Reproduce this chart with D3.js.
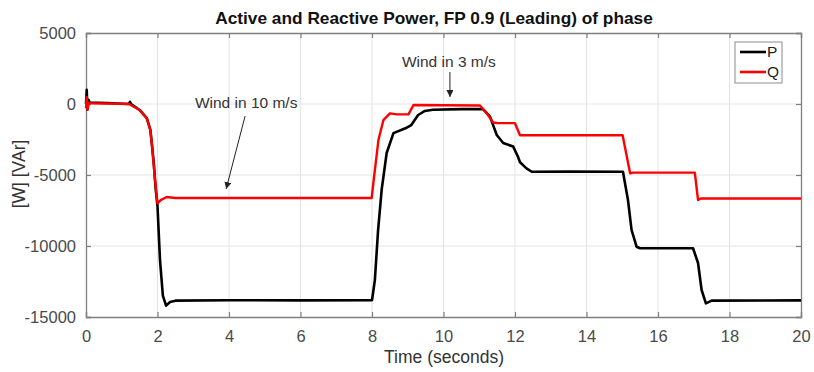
<!DOCTYPE html>
<html><head><meta charset="utf-8">
<script src="https://cdn.jsdelivr.net/npm/d3@7"></script>
<style>body{margin:0;background:#fff;}svg{display:block;font-family:"Liberation Sans",Arial,sans-serif;}</style>
</head><body><svg id="c" width="814" height="372"></svg>
<script>
const xTicks = [0,2,4,6,8,10,12,14,16,18,20];
const yTicks = [5000,0,-5000,-10000,-15000];
const pTime = [0,0.02,0.04,0.07,0.1,0.3,0.6,1.0,1.2,1.23,1.26,1.5,1.7,1.8,1.85,1.9,1.95,2.0,2.07,2.15,2.24,2.35,2.5,4.0,6.0,8.0,8.08,8.17,8.27,8.41,8.6,8.97,9.1,9.29,9.48,9.7,10.5,11.1,11.3,11.49,11.67,11.95,12.08,12.14,12.33,12.47,13.5,15.02,15.16,15.26,15.4,15.5,16.98,17.12,17.22,17.34,17.5,20];
const pValues = [0,1000,-400,300,100,90,70,20,0,150,0,-420,-1000,-1830,-3000,-4300,-6000,-7200,-11000,-13500,-14200,-13950,-13850,-13820,-13830,-13820,-12400,-8900,-6050,-3450,-2050,-1670,-1480,-775,-490,-400,-360,-350,-890,-2180,-2750,-3000,-3700,-4100,-4550,-4770,-4760,-4770,-6760,-8870,-10050,-10160,-10160,-11200,-13100,-14040,-13850,-13830];
const qTime = [0,0.02,0.04,0.08,0.12,0.5,1.0,1.2,1.5,1.7,1.8,1.85,1.93,2.0,2.1,2.26,2.5,5.0,7.99,8.08,8.18,8.32,8.5,8.7,9.02,9.16,10.0,11.02,11.21,11.39,11.5,12.0,12.14,13.5,15.01,15.22,15.3,17.03,17.12,17.2,20];
const qValues = [-300,500,-400,100,50,40,20,0,-420,-1000,-1830,-3000,-5350,-7000,-6750,-6550,-6620,-6620,-6620,-4650,-2540,-1130,-660,-730,-730,-70,-90,-110,-660,-1300,-1340,-1350,-2200,-2200,-2200,-4880,-4830,-4830,-6760,-6650,-6650];
const legendNames = ["P","Q"];
const seriesColors = ["#000000","#ff0000"];
const notes = [
  {text:"Wind in 10 m/s", tx:4.48, tv:70, x1:4.45, v1:-850, x2:3.92, v2:-5990},
  {text:"Wind in 3 m/s", tx:10.15, tv:2960, x1:10.18, v1:2250, x2:10.18, v2:490}
];

const svg = d3.select("#c");
const L=86, R=801, T=33, B=317;
const x = d3.scaleLinear().domain([0,20]).range([L,R]);
const y = d3.scaleLinear().domain([-15000,5000]).range([B,T]);
const axisCol = "#7f7f7f", txtCol = "#4a4a4a";

// grid
svg.append("g").selectAll("line").data(xTicks.slice(1,-1)).join("line")
  .attr("x1",d=>x(d)).attr("x2",d=>x(d)).attr("y1",T).attr("y2",B)
  .attr("stroke","#e3e3e3").attr("stroke-width",1);
svg.append("g").selectAll("line").data(yTicks.slice(1,-1)).join("line")
  .attr("y1",d=>y(d)).attr("y2",d=>y(d)).attr("x1",L).attr("x2",R)
  .attr("stroke","#e3e3e3").attr("stroke-width",1);

// axes
const fs = 16.5;
const fmt = d => String(d);
const xa = svg.append("g").attr("transform",`translate(0,${B})`).call(d3.axisBottom(x).tickValues(xTicks).tickFormat(fmt).tickSize(-5).tickPadding(13));
const xt = svg.append("g").attr("transform",`translate(0,${T})`).call(d3.axisTop(x).tickValues(xTicks).tickSize(-5).tickFormat(""));
const ya = svg.append("g").attr("transform",`translate(${L},0)`).call(d3.axisLeft(y).tickValues(yTicks).tickFormat(fmt).tickSize(-5).tickPadding(10));
const yr = svg.append("g").attr("transform",`translate(${R},0)`).call(d3.axisRight(y).tickValues(yTicks).tickSize(-5).tickFormat(""));
[xa,xt,ya,yr].forEach(g=>{
  g.select(".domain").attr("stroke",axisCol).attr("stroke-width",1.3);
  g.selectAll(".tick line").attr("stroke",axisCol).attr("stroke-width",1.2);
  g.selectAll("text").attr("fill",txtCol).attr("font-size",fs).attr("font-family","Liberation Sans, Arial, sans-serif");
});

// lines
const line = (ts,vs)=>d3.line().x((d,i)=>x(ts[i])).y(d=>y(d))(vs);
svg.append("path").attr("d",line(pTime,pValues)).attr("fill","none").attr("stroke",seriesColors[0]).attr("stroke-width",2.6).attr("stroke-linejoin","round");
svg.append("path").attr("d",line(qTime,qValues)).attr("fill","none").attr("stroke",seriesColors[1]).attr("stroke-width",2.4).attr("stroke-linejoin","round");

// annotations
const defs = svg.append("defs");
defs.append("marker").attr("id","ah").attr("viewBox","0 0 10 10").attr("refX",10).attr("refY",5)
  .attr("markerWidth",7).attr("markerHeight",7).attr("markerUnits","userSpaceOnUse").attr("orient","auto")
  .append("path").attr("d","M0,0 L10,5 L0,10 Z").attr("fill","#222");
notes.forEach(n=>{
  svg.append("text").attr("x",x(n.tx)).attr("y",y(n.tv)).attr("dy","0.35em").attr("text-anchor","middle")
    .attr("font-size",15.5).attr("fill","#333").text(n.text);
  svg.append("line").attr("x1",x(n.x1)).attr("y1",y(n.v1)).attr("x2",x(n.x2)).attr("y2",y(n.v2))
    .attr("stroke","#222").attr("stroke-width",1).attr("marker-end","url(#ah)");
});

// legend
const lg = svg.append("g");
lg.append("rect").attr("x",735).attr("y",42).attr("width",47).attr("height",41).attr("fill","#fff").attr("stroke","#8c8c8c").attr("stroke-width",1);
legendNames.forEach((nm,i)=>{
  const yy = 52 + i*20;
  lg.append("line").attr("x1",740).attr("x2",766).attr("y1",yy).attr("y2",yy).attr("stroke",seriesColors[i]).attr("stroke-width",2.6);
  lg.append("text").attr("x",767).attr("y",yy).attr("dy","0.35em").attr("font-size",15.5).attr("fill","#222").text(nm);
});

// titles
svg.append("text").attr("x",434).attr("y",18).attr("dy","0.35em").attr("text-anchor","middle")
  .attr("font-size",17.3).attr("font-weight","bold").attr("fill","#111").text("Active and Reactive Power, FP 0.9 (Leading) of phase");
svg.append("text").attr("x",444).attr("y",357).attr("dy","0.35em").attr("text-anchor","middle")
  .attr("font-size",17.5).attr("fill","#333").text("Time (seconds)");
svg.append("text").attr("transform","translate(19,174) rotate(-90)").attr("dy","0.35em").attr("text-anchor","middle")
  .attr("font-size",17.5).attr("fill","#333").text("[W] [VAr]");
</script></body></html>
